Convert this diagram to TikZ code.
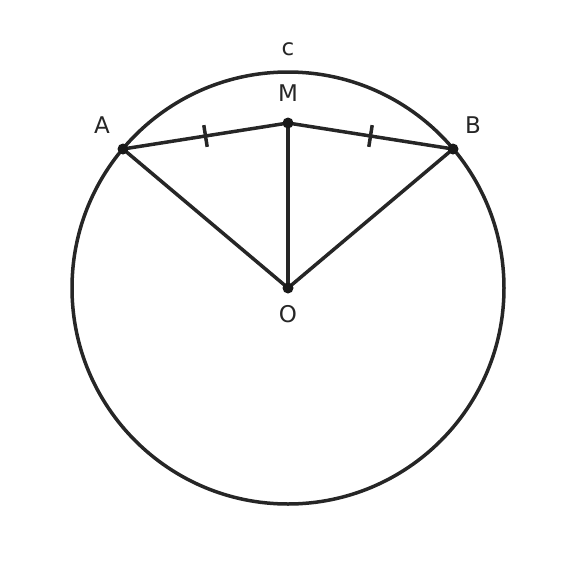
\documentclass[tikz,border=0pt]{standalone}
\usepackage{fontspec}
\setmainfont{DejaVu Sans}
\usetikzlibrary{calc}
\begin{document}
\begin{tikzpicture}[x=1pt,y=-1pt,
  geo/.style={line width=3.5pt,draw=black!85},
  dot/.style={circle,fill=black!90,inner sep=0pt,minimum size=11pt},
  lbl/.style={font=\fontsize{23}{27}\selectfont,text=black!85}]
\useasboundingbox (0,0) rectangle (576,576);
\coordinate (O) at (288,288);
\coordinate (A) at (123,149);
\coordinate (B) at (453,149);
\coordinate (M) at (288,123);
\draw[geo] (O) circle (216);
\draw[geo] (A) -- (M) -- (B);
\draw[geo] (A) -- (O) -- (B);
\draw[geo] (M) -- (O);
\coordinate (m1) at ($(A)!0.5!(M)$);
\coordinate (m2) at ($(M)!0.5!(B)$);
\draw[geo] ($(m1)!11pt!90:(M)$) -- ($(m1)!11pt!-90:(M)$);
\draw[geo] ($(m2)!11pt!90:(B)$) -- ($(m2)!11pt!-90:(B)$);
\node[dot] (dA) at (A) {};
\node[dot] (dB) at (B) {};
\node[dot] (dM) at (M) {};
\node[dot] (dO) at (O) {};
\node[lbl] (lc) at (288,49) {c};
\node[lbl] (lM) at (288,93) {M};
\node[lbl] (lA) at (102,125) {A};
\node[lbl] (lB) at (473,125) {B};
\node[lbl] (lO) at (288,314) {O};
\end{tikzpicture}
\end{document}
